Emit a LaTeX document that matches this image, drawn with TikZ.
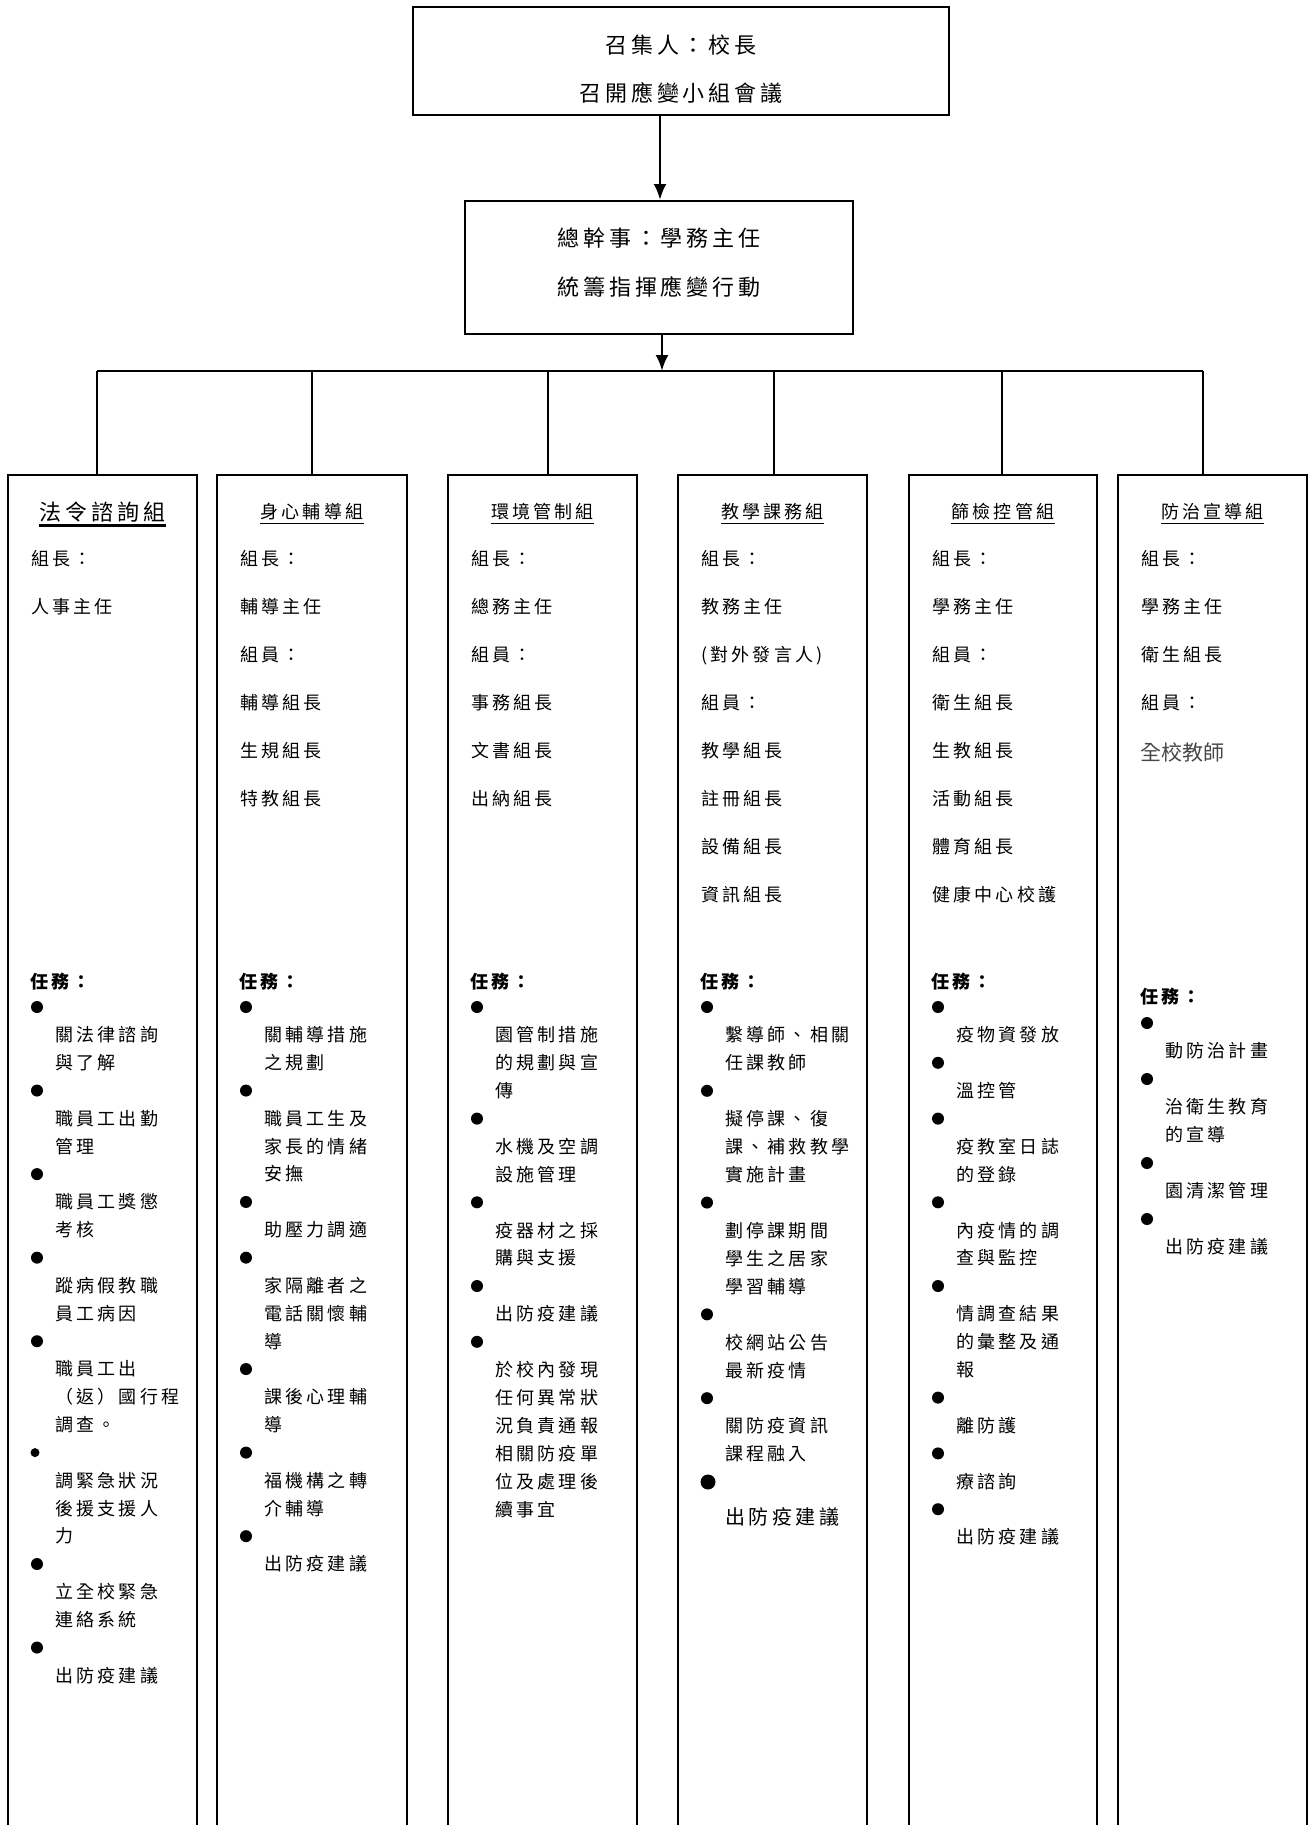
\documentclass[tikz,border=0pt]{standalone}
\usepackage{fontspec}
\newfontfamily\cjk[LetterSpace=18]{Noto Sans CJK TC}
\newfontfamily\cjkplain{Noto Sans CJK TC}
\usetikzlibrary{arrows.meta}
\def\bmkt{*}
\def\bsmt{+}
\newcommand\uplist[4]{%
  \foreach \itm [count=\i from 0] in {#4} {%
    \node[txt] (#1\i) at (#2,#3+\i*48+6.8) {\itm};
  }}
\newcommand\tasklist[5]{%
  \foreach \itm [count=\i from 0] in {#5} {%
    \ifx\itm\bmkt
      \node[bul] (#1\i) at (#2+29,#3+\i*#4) {};
    \else\ifx\itm\bsmt
      \node[bul,minimum size=9pt] (#1\i) at (#2+27,#3+\i*#4) {};
    \else
      \node[txt] (#1\i) at (#2+47,#3+\i*#4+6.8) {\itm};
    \fi\fi
  }}
\begin{document}
\begin{tikzpicture}[x=1pt,y=-1pt,
  box/.style={draw,line width=2pt,inner sep=0pt},
  colline/.style={line width=2pt},
  bus/.style={line width=2.6pt},
  drop/.style={line width=1.5pt},
  arr/.style={line width=2.6pt,-{Latex[length=16pt,width=13pt]}},
  txt/.style={anchor=base west,inner sep=0pt,font=\cjk\fontsize{18}{18}\selectfont},
  toptxt/.style={anchor=base,inner sep=0pt,font=\cjk\fontsize{22}{22}\selectfont},
  ttl/.style={anchor=base,inner sep=0pt,font=\cjk\fontsize{18}{18}\selectfont},
  bigttl/.style={anchor=base,inner sep=0pt,font=\cjk\fontsize{22}{22}\selectfont},
  task/.style={anchor=base west,inner sep=0pt,font=\cjk\bfseries\fontsize{18}{18}\selectfont},
  bul/.style={circle,fill=black,inner sep=0pt,minimum size=12pt},
  ul/.style={line width=1.5pt}
]
\useasboundingbox (0,0) rectangle (1311,1825);
% top boxes
\node[box,minimum width=536pt,minimum height=108pt] (top) at (681,61) {};
\node[toptxt] (topA) at (681,53.4) {召集人：校長};
\node[toptxt] (topB) at (681,101.4) {召開應變小組會議};
\node[box,minimum width=388pt,minimum height=133pt] (gm) at (659,267.5) {};
\node[toptxt] (gmA) at (659,246.4) {總幹事：學務主任};
\node[toptxt] (gmB) at (659,295.4) {統籌指揮應變行動};
\coordinate (a1) at (660,0);
\coordinate (a2) at (662,0);
\draw[arr] (a1 |- top.south) -- (a1 |- gm.north);
% bus
\coordinate (busL) at (97,371);
\coordinate (busR) at (1203,371);
\draw[bus] (busL) -- (busR);
\draw[arr] (a2 |- gm.south) -- (a2 |- busL);
% columns
\foreach \n/\l/\r in {1/8/197,2/217/407,3/448/637,4/678/867,5/909/1097,6/1118/1307}{
  \node[inner sep=0pt,minimum width={(\r-\l)*1pt},minimum height=1350pt,anchor=north west] (c\n) at (\l,475) {};
  \draw[colline] (c\n.south west) -- (c\n.north west) -- (c\n.north east) -- (c\n.south east);
}
\foreach \n/\x in {1/97,2/312,3/548,4/774,5/1002,6/1203}{
  \coordinate (d\n) at (\x,0);
  \draw[drop] (d\n |- busL) -- (d\n |- c\n.north);
}
% titles
\node[bigttl] (t1) at (102.5,520.4) {法令諮詢組};
\node[ttl] (t2) at (312,518.8) {身心輔導組};
\node[ttl] (t3) at (542.5,518.8) {環境管制組};
\node[ttl] (t4) at (772.5,518.8) {教學課務組};
\node[ttl] (t5) at (1003,518.8) {篩檢控管組};
\node[ttl] (t6) at (1212.5,518.8) {防治宣導組};
\draw[line width=2.5pt] ([yshift=-5pt]t1.base west) -- ([yshift=-5pt]t1.base east);
\foreach \n in {2,...,6}{
  \draw[ul] ([yshift=-4.5pt]t\n.base west) -- ([yshift=-4.5pt]t\n.base east);
}
% member lists
\uplist{u1-}{31}{559}{組長：,人事主任}
\uplist{u2-}{240}{559}{組長：,輔導主任,組員：,輔導組長,生規組長,特教組長}
\uplist{u3-}{471}{559}{組長：,總務主任,組員：,事務組長,文書組長,出納組長}
\uplist{u4-}{701}{559}{組長：,教務主任,(對外發言人),組員：,教學組長,註冊組長,設備組長,資訊組長}
\uplist{u5-}{932}{559}{組長：,學務主任,組員：,衛生組長,生教組長,活動組長,體育組長,健康中心校護}
\uplist{u6-}{1141}{559}{組長：,學務主任,衛生組長,組員：}
\node[anchor=base west,inner sep=0pt,font=\cjkplain\fontsize{21}{21}\selectfont,text=black!72] (u6-4) at (1140,760) {全校教師};
% tasks
\node[task] (k1) at (30,988.8) {任務：};
\node[task] (k2) at (239,988.8) {任務：};
\node[task] (k3) at (470,988.8) {任務：};
\node[task] (k4) at (700,988.8) {任務：};
\node[task] (k5) at (931,988.8) {任務：};
\node[task] (k6) at (1140,1003.8) {任務：};
\tasklist{s1-}{8}{1007}{27.85}{*,關法律諮詢,與了解,*,職員工出勤,管理,*,職員工獎懲,考核,*,蹤病假教職,員工病因,*,職員工出,（返）國行程,調查。,+,調緊急狀況,後援支援人,力,*,立全校緊急,連絡系統,*,出防疫建議}
\tasklist{s2-}{217}{1007}{27.85}{*,關輔導措施,之規劃,*,職員工生及,家長的情緒,安撫,*,助壓力調適,*,家隔離者之,電話關懷輔,導,*,課後心理輔,導,*,福機構之轉,介輔導,*,出防疫建議}
\tasklist{s3-}{448}{1007}{27.9}{*,園管制措施,的規劃與宣,傳,*,水機及空調,設施管理,*,疫器材之採,購與支援,*,出防疫建議,*,於校內發現,任何異常狀,況負責通報,相關防疫單,位及處理後,續事宜}
\tasklist{s4-}{678}{1007}{27.94}{*,繫導師、相關,任課教師,*,擬停課、復,課、補救教學,實施計畫,*,劃停課期間,學生之居家,學習輔導,*,校網站公告,最新疫情,*,關防疫資訊,課程融入}
\node[bul,minimum size=15pt] (s4-17) at (708,1482) {};
\node[anchor=base west,inner sep=0pt,font=\cjk\fontsize{20}{20}\selectfont] (s4-18) at (725,1524.5) {出防疫建議};
\tasklist{s5-}{909}{1007}{27.9}{*,疫物資發放,*,溫控管,*,疫教室日誌,的登錄,*,內疫情的調,查與監控,*,情調查結果,的彙整及通,報,*,離防護,*,療諮詢,*,出防疫建議}
\tasklist{s6-}{1118}{1023}{28}{*,動防治計畫,*,治衛生教育,的宣導,*,園清潔管理,*,出防疫建議}
\end{tikzpicture}
\end{document}
